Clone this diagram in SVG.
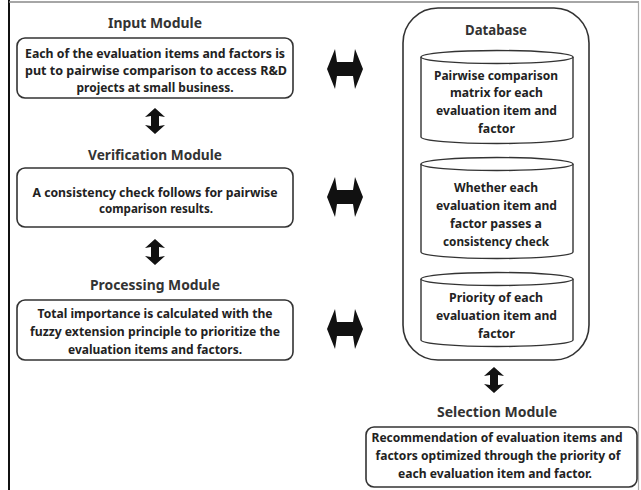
<svg xmlns="http://www.w3.org/2000/svg" width="641" height="490" viewBox="0 0 641 490">
<defs>
<style>
.box{fill:#fff;stroke:#333;stroke-width:1.6}
.cyl{fill:#fff;stroke:#333;stroke-width:1.4}
.t{font-family:"Noto Sans","Liberation Sans",sans-serif;font-weight:700;font-size:12.5px;fill:#222;text-anchor:middle}
.h{font-family:"Noto Sans","Liberation Sans",sans-serif;font-weight:700;font-size:15px;fill:#333;text-anchor:middle}
.arr{fill:#111}
</style>
<polygon id="harr" points="-18,0 -10,-20 -8,-7 8,-7 10,-20 18,0 10,20 8,7 -8,7 -10,20"/>
<polygon id="varr" points="0,-13 10,-4 4,-5 4,5 10,4 0,13 -10,4 -4,5 -4,-5 -10,-4"/>
</defs>
<rect width="641" height="490" fill="#fff"/>
<g id="frame">
<line x1="9" y1="0" x2="9" y2="490" stroke="#111" stroke-width="2"/>
<line x1="9" y1="2" x2="639" y2="2" stroke="#888" stroke-width="1.5"/>
<line x1="638.5" y1="2" x2="638.5" y2="490" stroke="#aaa" stroke-width="1.2"/>
</g>
<g id="input-module">
<text class="h" x="155" y="28" textLength="94" lengthAdjust="spacingAndGlyphs">Input Module</text>
<rect class="box" x="17" y="38" width="276" height="60" rx="8"/>
<text class="t" x="155" y="57.5" textLength="260" lengthAdjust="spacingAndGlyphs">Each of the evaluation items and factors is</text>
<text class="t" x="156" y="74.5" textLength="262" lengthAdjust="spacingAndGlyphs">put to pairwise comparison to access R&amp;D</text>
<text class="t" x="155" y="91.5" textLength="157" lengthAdjust="spacingAndGlyphs">projects at small business.</text>
</g>
<g id="verification-module">
<text class="h" x="155" y="160" textLength="134" lengthAdjust="spacingAndGlyphs">Verification Module</text>
<rect class="box" x="17" y="168" width="276" height="59" rx="8"/>
<text class="t" x="155" y="196.5" textLength="245" lengthAdjust="spacingAndGlyphs">A consistency check follows for pairwise</text>
<text class="t" x="156" y="213" textLength="114" lengthAdjust="spacingAndGlyphs">comparison results.</text>
</g>
<g id="processing-module">
<text class="h" x="155" y="290" textLength="130" lengthAdjust="spacingAndGlyphs">Processing Module</text>
<rect class="box" x="17" y="300" width="276" height="60" rx="8"/>
<text class="t" x="155" y="318" textLength="235" lengthAdjust="spacingAndGlyphs">Total importance is calculated with the</text>
<text class="t" x="155" y="336" textLength="250" lengthAdjust="spacingAndGlyphs">fuzzy extension principle to prioritize the</text>
<text class="t" x="155" y="353.5" textLength="174" lengthAdjust="spacingAndGlyphs">evaluation items and factors.</text>
</g>
<g id="database">
<rect class="box" x="403" y="8" width="186" height="352" rx="35"/>
<text class="h" x="496" y="35" textLength="62" lengthAdjust="spacingAndGlyphs">Database</text>
</g>
<g id="db-pairwise-matrix">
<path class="cyl" d="M421,57 V137 A76,6.5 0 0 0 573,137 V57"/>
<ellipse class="cyl" cx="497" cy="57" rx="76" ry="6.5"/>
<text class="t" x="496" y="80" textLength="124" lengthAdjust="spacingAndGlyphs">Pairwise comparison</text>
<text class="t" x="496.5" y="97" textLength="93" lengthAdjust="spacingAndGlyphs">matrix for each</text>
<text class="t" x="496.5" y="115" textLength="121" lengthAdjust="spacingAndGlyphs">evaluation item and</text>
<text class="t" x="496.5" y="133" textLength="37" lengthAdjust="spacingAndGlyphs">factor</text>
</g>
<g id="db-consistency">
<path class="cyl" d="M421,164 V252 A76,6.5 0 0 0 573,252 V164"/>
<ellipse class="cyl" cx="497" cy="164" rx="76" ry="6.5"/>
<text class="t" x="496" y="192" textLength="84" lengthAdjust="spacingAndGlyphs">Whether each</text>
<text class="t" x="496.5" y="210" textLength="121" lengthAdjust="spacingAndGlyphs">evaluation item and</text>
<text class="t" x="496" y="228" textLength="92" lengthAdjust="spacingAndGlyphs">factor passes a</text>
<text class="t" x="496" y="246" textLength="106" lengthAdjust="spacingAndGlyphs">consistency check</text>
</g>
<g id="db-priority">
<path class="cyl" d="M421,279 V340 A76,6.5 0 0 0 573,340 V279"/>
<ellipse class="cyl" cx="497" cy="279" rx="76" ry="6.5"/>
<text class="t" x="496" y="302" textLength="94" lengthAdjust="spacingAndGlyphs">Priority of each</text>
<text class="t" x="496.5" y="320" textLength="121" lengthAdjust="spacingAndGlyphs">evaluation item and</text>
<text class="t" x="496.5" y="338" textLength="37" lengthAdjust="spacingAndGlyphs">factor</text>
</g>
<g id="selection-module">
<text class="h" x="497" y="417" textLength="120" lengthAdjust="spacingAndGlyphs">Selection Module</text>
<rect class="box" x="366" y="427" width="271" height="60" rx="8"/>
<text class="t" x="497" y="441.5" textLength="251" lengthAdjust="spacingAndGlyphs">Recommendation of evaluation items and</text>
<text class="t" x="498" y="459.5" textLength="245" lengthAdjust="spacingAndGlyphs">factors optimized through the priority of</text>
<text class="t" x="495" y="477.5" textLength="194" lengthAdjust="spacingAndGlyphs">each evaluation item and factor.</text>
</g>
<g id="connectors" class="arr">
<use href="#varr" x="155" y="121"/>
<use href="#varr" x="155" y="252"/>
<use href="#varr" x="494" y="380"/>
<use href="#harr" x="345" y="69"/>
<use href="#harr" x="345" y="197"/>
<use href="#harr" x="345" y="329"/>
</g>
</svg>
